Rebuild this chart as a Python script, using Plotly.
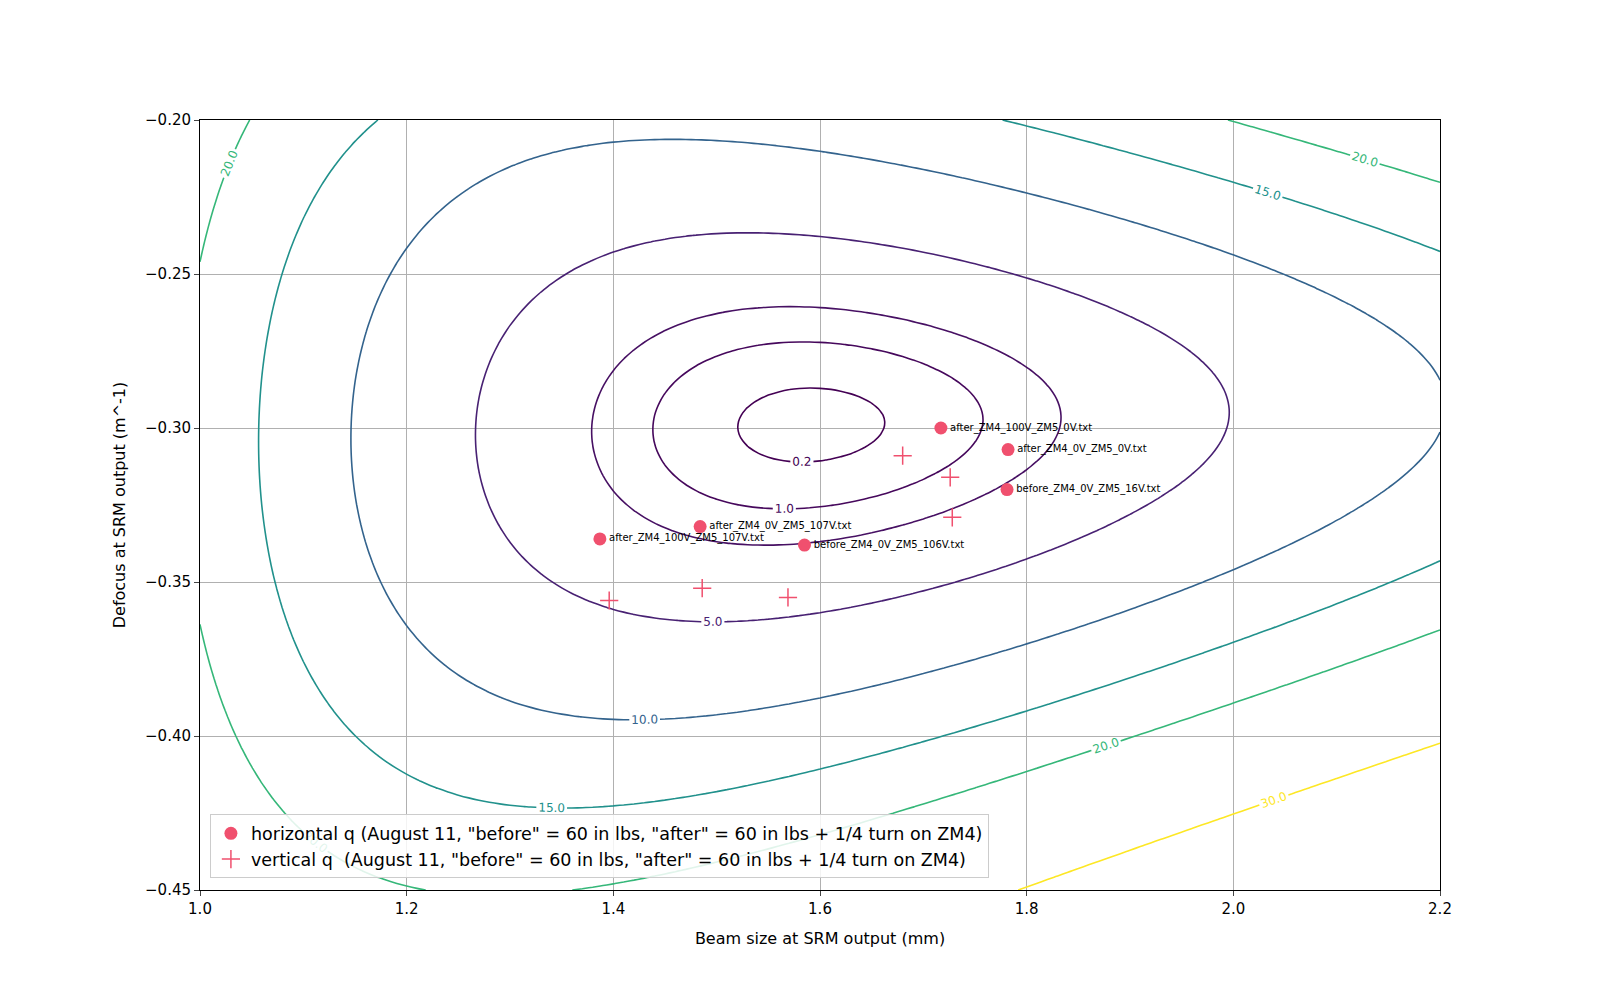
import numpy as np
import plotly.graph_objects as go

# Marker data
h_labels = ["after_ZM4_100V_ZM5_0V.txt", "after_ZM4_0V_ZM5_0V.txt", "before_ZM4_0V_ZM5_16V.txt",
            "after_ZM4_0V_ZM5_107V.txt", "after_ZM4_100V_ZM5_107V.txt", "before_ZM4_0V_ZM5_106V.txt"]
h_x = [1.717, 1.782, 1.781, 1.484, 1.387, 1.585]
h_y = [-0.300, -0.307, -0.320, -0.332, -0.336, -0.338]
v_x = [1.680, 1.726, 1.728, 1.486, 1.396, 1.569]
v_y = [-0.309, -0.316, -0.329, -0.352, -0.356, -0.355]

levels = [0.2, 1.0, 2.0, 5.0, 10.0, 15.0, 20.0, 30.0]
level_colors = ["#440154", "#46085c", "#471063", "#482173", "#33638d", "#21918c", "#35b779", "#fde725"]
show_label = [True, True, False, True, True, True, True, True]

# Mode-mismatch field from a Gaussian-beam overlap model (target mode w0, a0)
w0, a0 = 1.59, -0.299
lam = 1.064e-6
p = 2.0
xs = np.linspace(1.0, 2.2, 121)
ys = np.linspace(-0.45, -0.20, 121)
W, A = np.meshgrid(xs, ys)
b0 = lam / (np.pi * (w0 * 1e-3) ** 2)
B = b0 * (w0 / W) ** p
A_eff = A - 0.01 * (W - w0)
u1 = A_eff - 1j * B
u0 = a0 - 1j * b0
Z = 100 * np.abs(u1 - u0) ** 2 / np.abs(u1 - np.conj(u0)) ** 2

fig = go.Figure()
for lev, col, sl in zip(levels, level_colors, show_label):
    fig.add_trace(go.Contour(
        x=xs, y=ys, z=Z, showscale=False, hoverinfo="skip", showlegend=False,
        contours=dict(start=lev, end=lev, size=1, coloring="lines", showlabels=sl,
                      labelformat=".1f", labelfont=dict(size=12, color=col)),
        colorscale=[[0, col], [1, col]], line=dict(width=1.6), autocontour=False,
    ))

fig.add_trace(go.Scatter(x=h_x, y=h_y, mode="markers+text", text=h_labels, textposition="middle right",
                         textfont=dict(size=10, color="black"),
                         marker=dict(color="#f0506e", size=13),
                         name='horizontal q (August 11, "before" = 60 in lbs, "after" = 60 in lbs + 1/4 turn on ZM4)'))
fig.add_trace(go.Scatter(x=v_x, y=v_y, mode="markers",
                         marker=dict(color="#f0506e", size=13, symbol="cross-thin", line=dict(width=1.5, color="#f0506e")),
                         name='vertical q  (August 11, "before" = 60 in lbs, "after" = 60 in lbs + 1/4 turn on ZM4)'))

ax = dict(showline=True, linecolor="black", mirror=True, ticks="outside", showgrid=True,
          gridcolor="#b0b0b0", zeroline=False, tickfont=dict(size=15, color="black"))
fig.update_layout(
    width=1600, height=1000, plot_bgcolor="white", paper_bgcolor="white",
    font=dict(family="DejaVu Sans", color="black"),
    margin=dict(l=192, r=168, t=112, b=118),
    xaxis=dict(ax, range=[1.0, 2.2], dtick=0.2, tickformat=".1f",
               title=dict(text="Beam size at SRM output (mm)", font=dict(size=16))),
    yaxis=dict(ax, range=[-0.45, -0.20], dtick=0.05, tickformat=".2f",
               title=dict(text="Defocus at SRM output (m^-1)", font=dict(size=16))),
    legend=dict(x=0.008, y=0.015, xanchor="left", yanchor="bottom", bgcolor="rgba(255,255,255,0.85)",
                bordercolor="#cccccc", borderwidth=1, font=dict(size=17.5)),
)
fig.write_html("out.html")
